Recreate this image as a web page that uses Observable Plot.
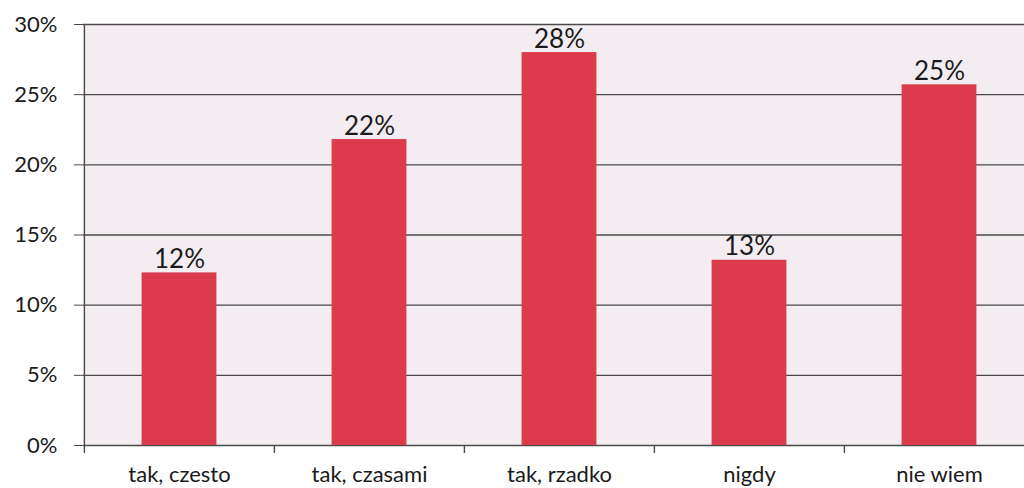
<!DOCTYPE html>
<html>
<head>
<meta charset="utf-8">
<script src="https://cdn.jsdelivr.net/npm/d3@7"></script>
<script src="https://cdn.jsdelivr.net/npm/@observablehq/plot@0.6"></script>
<style>
  html, body { margin: 0; padding: 0; background: #fff; overflow: hidden; }
  #chart svg { max-width: none !important; display: block; }
</style>
</head>
<body>
<div id="chart"></div>
<script>
const categories = ["tak, czesto", "tak, czasami", "tak, rzadko", "nigdy", "nie wiem"];
const values = [12.3, 21.8, 28.0, 13.2, 25.7];
const valueLabels = ["12%", "22%", "28%", "13%", "25%"];
const yTicks = [0, 5, 10, 15, 20, 25, 30];

const data = categories.map((c, i) => ({category: c, value: values[i], label: valueLabels[i]}));

const W = 1034, ML = 83, MR = 0;
const bw = (W - ML - MR) / categories.length;
const barInset = (bw - 75) / 2;
const font = "Lato, 'Open Sans', sans-serif";

const chart = Plot.plot({
  width: W,
  height: 488,
  marginLeft: ML,
  marginRight: MR,
  marginTop: 24,
  marginBottom: 43,
  style: {fontFamily: font, color: "#1a1a1a", background: "transparent", maxWidth: "none"},
  x: {domain: categories, padding: 0, label: null},
  y: {domain: [0, 30], label: null},
  marks: [
    Plot.frame({fill: "#f3edf2", stroke: null}),
    Plot.ruleY(yTicks, {stroke: "#4a4a4a", strokeWidth: 1.4}),
    Plot.ruleX([categories[0]], {x: d => d, dx: -bw / 2, y1: 0, y2: 30, stroke: "#4a4a4a", strokeWidth: 1.4}),
    Plot.barY(data, {x: "category", y: "value", fill: "#dc3a4d", insetLeft: barInset, insetRight: barInset}),
    Plot.text(data, {x: "category", y: "value", text: "label", lineAnchor: "bottom", dy: -5, fontSize: 26, fill: "#1a1a1a"}),
    Plot.axisY({ticks: yTicks, tickFormat: d => d + "%", tickSize: 9, tickPadding: 17, fontSize: 22, stroke: "#4a4a4a", label: null}),
    Plot.axisX({tickSize: 8, text: null, dx: -bw / 2, stroke: "#4a4a4a", strokeWidth: 1.4, label: null}),
    Plot.axisX({tickSize: 0, tickPadding: 21, fontSize: 22, label: null})
  ]
});
document.getElementById("chart").appendChild(chart);
</script>
</body>
</html>
